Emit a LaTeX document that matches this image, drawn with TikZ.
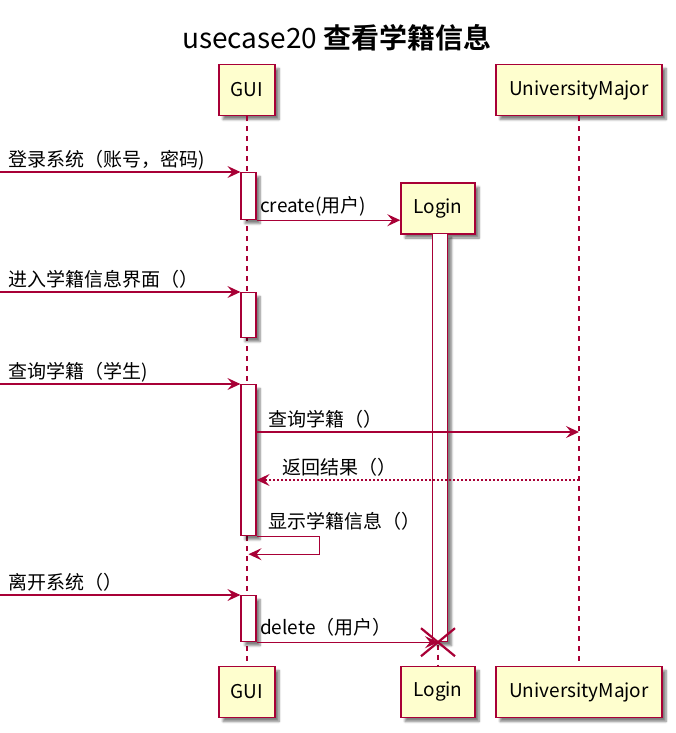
\documentclass[tikz,border=0pt]{standalone}
\usepackage{fontspec}
\setmainfont{Noto Sans CJK SC}[BoldFont={Noto Sans CJK SC Bold}]
\usetikzlibrary{arrows.meta,shadows.blur}
\definecolor{umlred}{HTML}{A80036}
\definecolor{umlfill}{HTML}{FEFECE}
\tikzstyle{participant} = [draw=umlred, fill=umlfill, rectangle, line width=1.4pt,
    minimum height=51pt, inner sep=0pt, font=\fontsize{19}{22}\selectfont,
    blur shadow={shadow xshift=4pt, shadow yshift=-4pt, shadow opacity=50, shadow blur steps=6}]
\tikzstyle{actbar} = [draw=umlred, fill=white, rectangle, line width=1.2pt,
    minimum width=15pt, inner sep=0pt, anchor=north,
    blur shadow={shadow xshift=4pt, shadow yshift=-4pt, shadow opacity=50, shadow blur steps=6}]
\tikzstyle{lifeline} = [draw=umlred, line width=1.2pt, dash pattern=on 5pt off 5pt]
\tikzstyle{msg} = [draw=umlred, line width=1.3pt, -{Stealth[length=13pt,width=12pt,inset=5pt]}]
\tikzstyle{reply} = [msg, dash pattern=on 2pt off 2pt]
\tikzstyle{msgtext} = [anchor=base west, inner sep=0pt, font=\fontsize{19}{22}\selectfont]
\tikzstyle{input} = [coordinate]

\begin{document}
\begin{tikzpicture}[x=1pt, y=-1pt]
    \useasboundingbox (0,0) rectangle (676,733);
    % % % % % % % % % % % % % % % % % % % % % % %
    % Title and participants
    % % % % % % % % % % % % % % % % % % % % % % %
    \node [font=\fontsize{28}{33}\selectfont] (title) at (337,38) {usecase20 \textbf{查看学籍信息}};
    
    % top boxes
    \node [participant, minimum width=56pt] (gui) at (247,90) {GUI};
    \node [participant, minimum width=74pt] (login) at (438,208.5) {Login};
    \node [participant, minimum width=166pt] (um) at (579,90) {UniversityMajor};
    
    % bottom boxes
    \node [participant, minimum width=56pt, below of=gui, node distance=602pt] (guiB) {GUI};
    \node [participant, minimum width=74pt, below of=login, node distance=483.5pt] (loginB) {Login};
    \node [participant, minimum width=166pt, below of=um, node distance=602pt] (umB) {UniversityMajor};
    
    % lifelines
    \draw [lifeline] (gui) -- (guiB);
    \draw [lifeline] (login) -- (loginB);
    \draw [lifeline] (um) -- (umB);
    
    % % % % % % % % % % % % % % % % % % % % % % %
    % Activation bars
    % % % % % % % % % % % % % % % % % % % % % % %
    \node [actbar, minimum height=408pt] (lb) at (440,233) {};
    \node [actbar, minimum height=47pt] (a1) at (248.5,172) {};
    \node [actbar, minimum height=45pt] (a2) at (248.5,292) {};
    \node [actbar, minimum height=151pt] (a3) at (248.5,384) {};
    \node [actbar, minimum height=46pt] (a4) at (248.5,595) {};
    
    % free ends of the incoming messages
    \node [input] (in1) at (0,172) {};
    \node [input] (in2) at (0,292) {};
    \node [input] (in3) at (0,384) {};
    \node [input] (in4) at (0,595) {};
    \node [input] (q) at (0,432) {};
    \node [input] (r) at (0,480) {};
    
    % % % % % % % % % % % % % % % % % % % % % % %
    % Messages
    % % % % % % % % % % % % % % % % % % % % % % %
    % login
    \draw [msg] (in1) -- (a1.north west);
    \node [msgtext] (t1) at (8,166) {登录系统（账号，密码)};
    \draw [msg] (a1.south east) -- (a1.south east -| login.west);
    \node [msgtext] (t2) at (260,212) {create(用户)};
    
    % enter page
    \draw [msg] (in2) -- (a2.north west);
    \node [msgtext] (t3) at (8,286) {进入学籍信息界面（）};
    
    % query
    \draw [msg] (in3) -- (a3.north west);
    \node [msgtext] (t4) at (8,378) {查询学籍（学生)};
    \draw [msg] (q -| a3.east) -- (q -| um);
    \node [msgtext] (t5) at (268,426) {查询学籍（）};
    \draw [reply] (r -| um) -- (r -| a3.east);
    \node [msgtext] (t6) at (282,474) {返回结果（）};
    
    % self message
    \draw [msg] (a3.south east) -- +(63,0) -- +(63,18) -- ([yshift=-18pt]a3.south);
    \node [msgtext] (t7) at (268,528) {显示学籍信息（）};
    
    % leave
    \draw [msg] (in4) -- (a4.north west);
    \node [msgtext] (t8) at (8,589) {离开系统（）};
    \node [input] (kill) at (a4.south east -| login) {};
    \draw [msg] (a4.south east) -- (kill);
    \node [msgtext] (t9) at (260,634) {delete（用户）};
    \draw [umlred, line width=2.2pt] ([shift={(-17pt,14pt)}]kill.center) -- ([shift={(17pt,-14pt)}]kill.center);
    \draw [umlred, line width=2.2pt] ([shift={(-17pt,-14pt)}]kill.center) -- ([shift={(17pt,14pt)}]kill.center);
    
\end{tikzpicture}
\end{document}
